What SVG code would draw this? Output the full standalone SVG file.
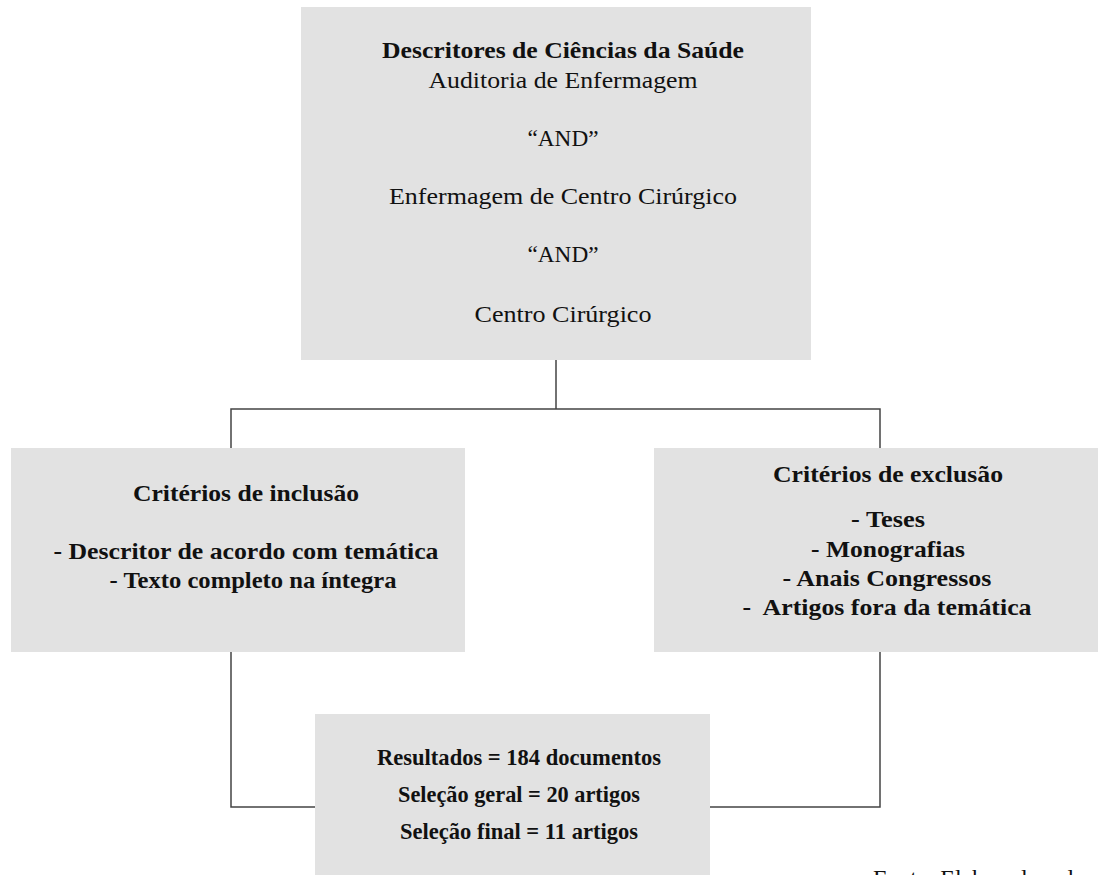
<svg xmlns="http://www.w3.org/2000/svg" width="1099" height="875" viewBox="0 0 1099 875">
<style>
.box{fill:#e2e2e2;}
.t{font-family:"Liberation Serif","DejaVu Serif",serif;font-size:24px;fill:#111;text-anchor:middle;}
.b{font-weight:bold;}
.c{fill:none;stroke:#444;stroke-width:1.5;}
</style>
<rect width="1099" height="875" fill="#ffffff"/>
<g id="connectors">
<path class="c" d="M556 360 V409 M231 448 V409 H880 V448"/>
<path class="c" d="M231 652 V807 H315"/>
<path class="c" d="M880 652 V807 H710"/>
</g>
<g id="node-descritores">
<rect class="box" x="301" y="7" width="510" height="353"/>
<text class="t b" x="563" y="58" textLength="362" lengthAdjust="spacingAndGlyphs">Descritores de Ciências da Saúde</text>
<text class="t" x="563" y="88" textLength="269" lengthAdjust="spacingAndGlyphs">Auditoria de Enfermagem</text>
<text class="t" x="563" y="146" textLength="71" lengthAdjust="spacingAndGlyphs">“AND”</text>
<text class="t" x="563" y="204" textLength="348" lengthAdjust="spacingAndGlyphs">Enfermagem de Centro Cirúrgico</text>
<text class="t" x="563" y="262" textLength="71" lengthAdjust="spacingAndGlyphs">“AND”</text>
<text class="t" x="563" y="322" textLength="177" lengthAdjust="spacingAndGlyphs">Centro Cirúrgico</text>
</g>
<g id="node-inclusao">
<rect class="box" x="11" y="448" width="454" height="204"/>
<text class="t b" x="246" y="501" textLength="226" lengthAdjust="spacingAndGlyphs">Critérios de inclusão</text>
<text class="t b" x="246" y="559" textLength="385" lengthAdjust="spacingAndGlyphs">- Descritor de acordo com temática</text>
<text class="t b" x="253" y="588" textLength="287" lengthAdjust="spacingAndGlyphs">- Texto completo na íntegra</text>
</g>
<g id="node-exclusao">
<rect class="box" x="654" y="448" width="444" height="204"/>
<text class="t b" x="888" y="482" textLength="230" lengthAdjust="spacingAndGlyphs">Critérios de exclusão</text>
<text class="t b" x="888" y="527" textLength="74" lengthAdjust="spacingAndGlyphs">- Teses</text>
<text class="t b" x="888" y="557" textLength="154" lengthAdjust="spacingAndGlyphs">- Monografias</text>
<text class="t b" x="887" y="586" textLength="209" lengthAdjust="spacingAndGlyphs">- Anais Congressos</text>
<text class="t b" x="887" y="615" textLength="289" lengthAdjust="spacingAndGlyphs" xml:space="preserve">-  Artigos fora da temática</text>
</g>
<g id="node-resultados">
<rect class="box" x="315" y="714" width="395" height="161"/>
<text class="t b" x="519" y="765" textLength="284" lengthAdjust="spacingAndGlyphs">Resultados = 184 documentos</text>
<text class="t b" x="519" y="802" textLength="242" lengthAdjust="spacingAndGlyphs">Seleção geral = 20 artigos</text>
<text class="t b" x="519" y="839" textLength="238" lengthAdjust="spacingAndGlyphs">Seleção final = 11 artigos</text>
</g>
<text class="t" x="873" y="886" style="text-anchor:start">Fonte: Elaborado pelos autores</text>
</svg>
